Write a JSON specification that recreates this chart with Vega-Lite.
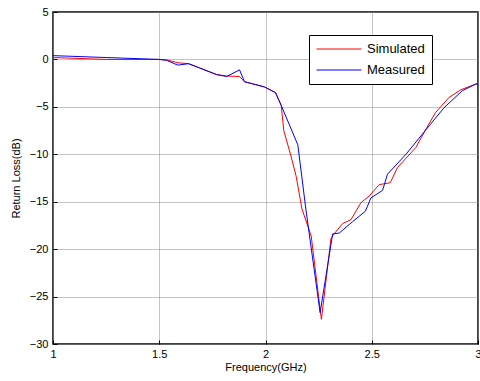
{
  "$schema": "https://vega.github.io/schema/vega-lite/v6.json",
  "autosize": "none",
  "width": 425,
  "height": 332,
  "padding": {"left": 53, "top": 12, "right": 2, "bottom": 37},
  "background": "white",
  "config": {
    "font": "Liberation Sans",
    "view": {"stroke": "black", "strokeWidth": 1.5},
    "legend": {"strokeColor": "black", "strokeWidth": 1, "fillColor": "white"},
    "axis": {
      "grid": true,
      "gridColor": "#888888",
      "gridWidth": 1,
      "gridDash": [1, 1],
      "domain": false,
      "ticks": true,
      "tickSize": -4,
      "tickColor": "black",
      "labelFont": "Liberation Sans",
      "labelFontSize": 11,
      "labelColor": "black",
      "titleFont": "Liberation Sans",
      "titleFontSize": 11,
      "titleFontWeight": "normal",
      "titleColor": "black"
    }
  },
  "data": {"values": [
    {"s": "Simulated", "f": 1.0, "r": 0.2},
    {"s": "Simulated", "f": 1.25, "r": 0.0},
    {"s": "Simulated", "f": 1.5, "r": 0.0},
    {"s": "Simulated", "f": 1.535, "r": -0.05},
    {"s": "Simulated", "f": 1.587, "r": -0.35},
    {"s": "Simulated", "f": 1.638, "r": -0.45},
    {"s": "Simulated", "f": 1.69, "r": -0.9},
    {"s": "Simulated", "f": 1.77, "r": -1.6},
    {"s": "Simulated", "f": 1.817, "r": -1.75},
    {"s": "Simulated", "f": 1.878, "r": -1.8},
    {"s": "Simulated", "f": 1.901, "r": -2.35},
    {"s": "Simulated", "f": 1.995, "r": -2.9},
    {"s": "Simulated", "f": 2.047, "r": -3.5},
    {"s": "Simulated", "f": 2.074, "r": -4.85},
    {"s": "Simulated", "f": 2.086, "r": -7.5},
    {"s": "Simulated", "f": 2.12, "r": -10.2},
    {"s": "Simulated", "f": 2.144, "r": -12.3},
    {"s": "Simulated", "f": 2.172, "r": -15.8},
    {"s": "Simulated", "f": 2.215, "r": -18.6},
    {"s": "Simulated", "f": 2.263, "r": -27.4},
    {"s": "Simulated", "f": 2.308, "r": -18.9},
    {"s": "Simulated", "f": 2.319, "r": -18.5},
    {"s": "Simulated", "f": 2.363, "r": -17.3},
    {"s": "Simulated", "f": 2.402, "r": -16.9},
    {"s": "Simulated", "f": 2.449, "r": -15.1},
    {"s": "Simulated", "f": 2.488, "r": -14.4},
    {"s": "Simulated", "f": 2.535, "r": -13.2},
    {"s": "Simulated", "f": 2.587, "r": -13.0},
    {"s": "Simulated", "f": 2.621, "r": -11.4},
    {"s": "Simulated", "f": 2.707, "r": -9.3},
    {"s": "Simulated", "f": 2.754, "r": -7.4},
    {"s": "Simulated", "f": 2.8, "r": -5.6},
    {"s": "Simulated", "f": 2.864, "r": -4.0},
    {"s": "Simulated", "f": 2.919, "r": -3.2},
    {"s": "Simulated", "f": 2.989, "r": -2.6},
    {"s": "Simulated", "f": 3.0, "r": -2.5},
    {"s": "Measured", "f": 1.0, "r": 0.4},
    {"s": "Measured", "f": 1.25, "r": 0.2},
    {"s": "Measured", "f": 1.5, "r": 0.0},
    {"s": "Measured", "f": 1.535, "r": -0.1},
    {"s": "Measured", "f": 1.587, "r": -0.6},
    {"s": "Measured", "f": 1.638, "r": -0.45},
    {"s": "Measured", "f": 1.69, "r": -0.9},
    {"s": "Measured", "f": 1.77, "r": -1.6},
    {"s": "Measured", "f": 1.817, "r": -1.8},
    {"s": "Measured", "f": 1.878, "r": -1.1},
    {"s": "Measured", "f": 1.901, "r": -2.35},
    {"s": "Measured", "f": 1.995, "r": -2.9},
    {"s": "Measured", "f": 2.047, "r": -3.5},
    {"s": "Measured", "f": 2.074, "r": -4.85},
    {"s": "Measured", "f": 2.152, "r": -9.0},
    {"s": "Measured", "f": 2.19, "r": -15.8},
    {"s": "Measured", "f": 2.257, "r": -26.7},
    {"s": "Measured", "f": 2.316, "r": -18.4},
    {"s": "Measured", "f": 2.347, "r": -18.3},
    {"s": "Measured", "f": 2.41, "r": -17.1},
    {"s": "Measured", "f": 2.47, "r": -16.0},
    {"s": "Measured", "f": 2.496, "r": -14.6},
    {"s": "Measured", "f": 2.551, "r": -13.8},
    {"s": "Measured", "f": 2.574, "r": -12.1},
    {"s": "Measured", "f": 2.661, "r": -10.0},
    {"s": "Measured", "f": 2.77, "r": -7.0},
    {"s": "Measured", "f": 2.84, "r": -5.1},
    {"s": "Measured", "f": 2.926, "r": -3.3},
    {"s": "Measured", "f": 2.99, "r": -2.6},
    {"s": "Measured", "f": 3.0, "r": -2.6}
  ]},
  "mark": {"type": "line", "strokeWidth": 1, "clip": true},
  "encoding": {
    "x": {
      "field": "f", "type": "quantitative",
      "scale": {"domain": [1, 3], "nice": false, "zero": false},
      "axis": {"values": [1, 1.5, 2, 2.5, 3], "format": "~g", "title": "Frequency(GHz)", "titlePadding": 2, "labelPadding": 8, "labelFlush": false}
    },
    "y": {
      "field": "r", "type": "quantitative",
      "scale": {"domain": [-30, 5], "nice": false, "zero": false},
      "axis": {"values": [-30, -25, -20, -15, -10, -5, 0, 5], "title": "Return Loss(dB)", "titlePadding": 8, "labelPadding": 9, "labelFlush": false}
    },
    "color": {
      "field": "s", "type": "nominal",
      "scale": {"domain": ["Simulated", "Measured"], "range": ["red", "blue"]},
      "legend": {
        "title": null,
        "orient": "none",
        "legendX": 256,
        "legendY": 23,
        "symbolType": "M-1,0H5.92",
        "symbolSize": 169,
        "symbolStrokeWidth": 1,
        "symbolFillColor": "transparent",
        "labelFontSize": 13,
        "labelFont": "Liberation Sans",
        "labelColor": "black",
        "rowPadding": 7,
        "padding": 7,
        "strokeColor": "black",
        "fillColor": "white",
        "labelOffset": 37
      }
    }
  }
}
